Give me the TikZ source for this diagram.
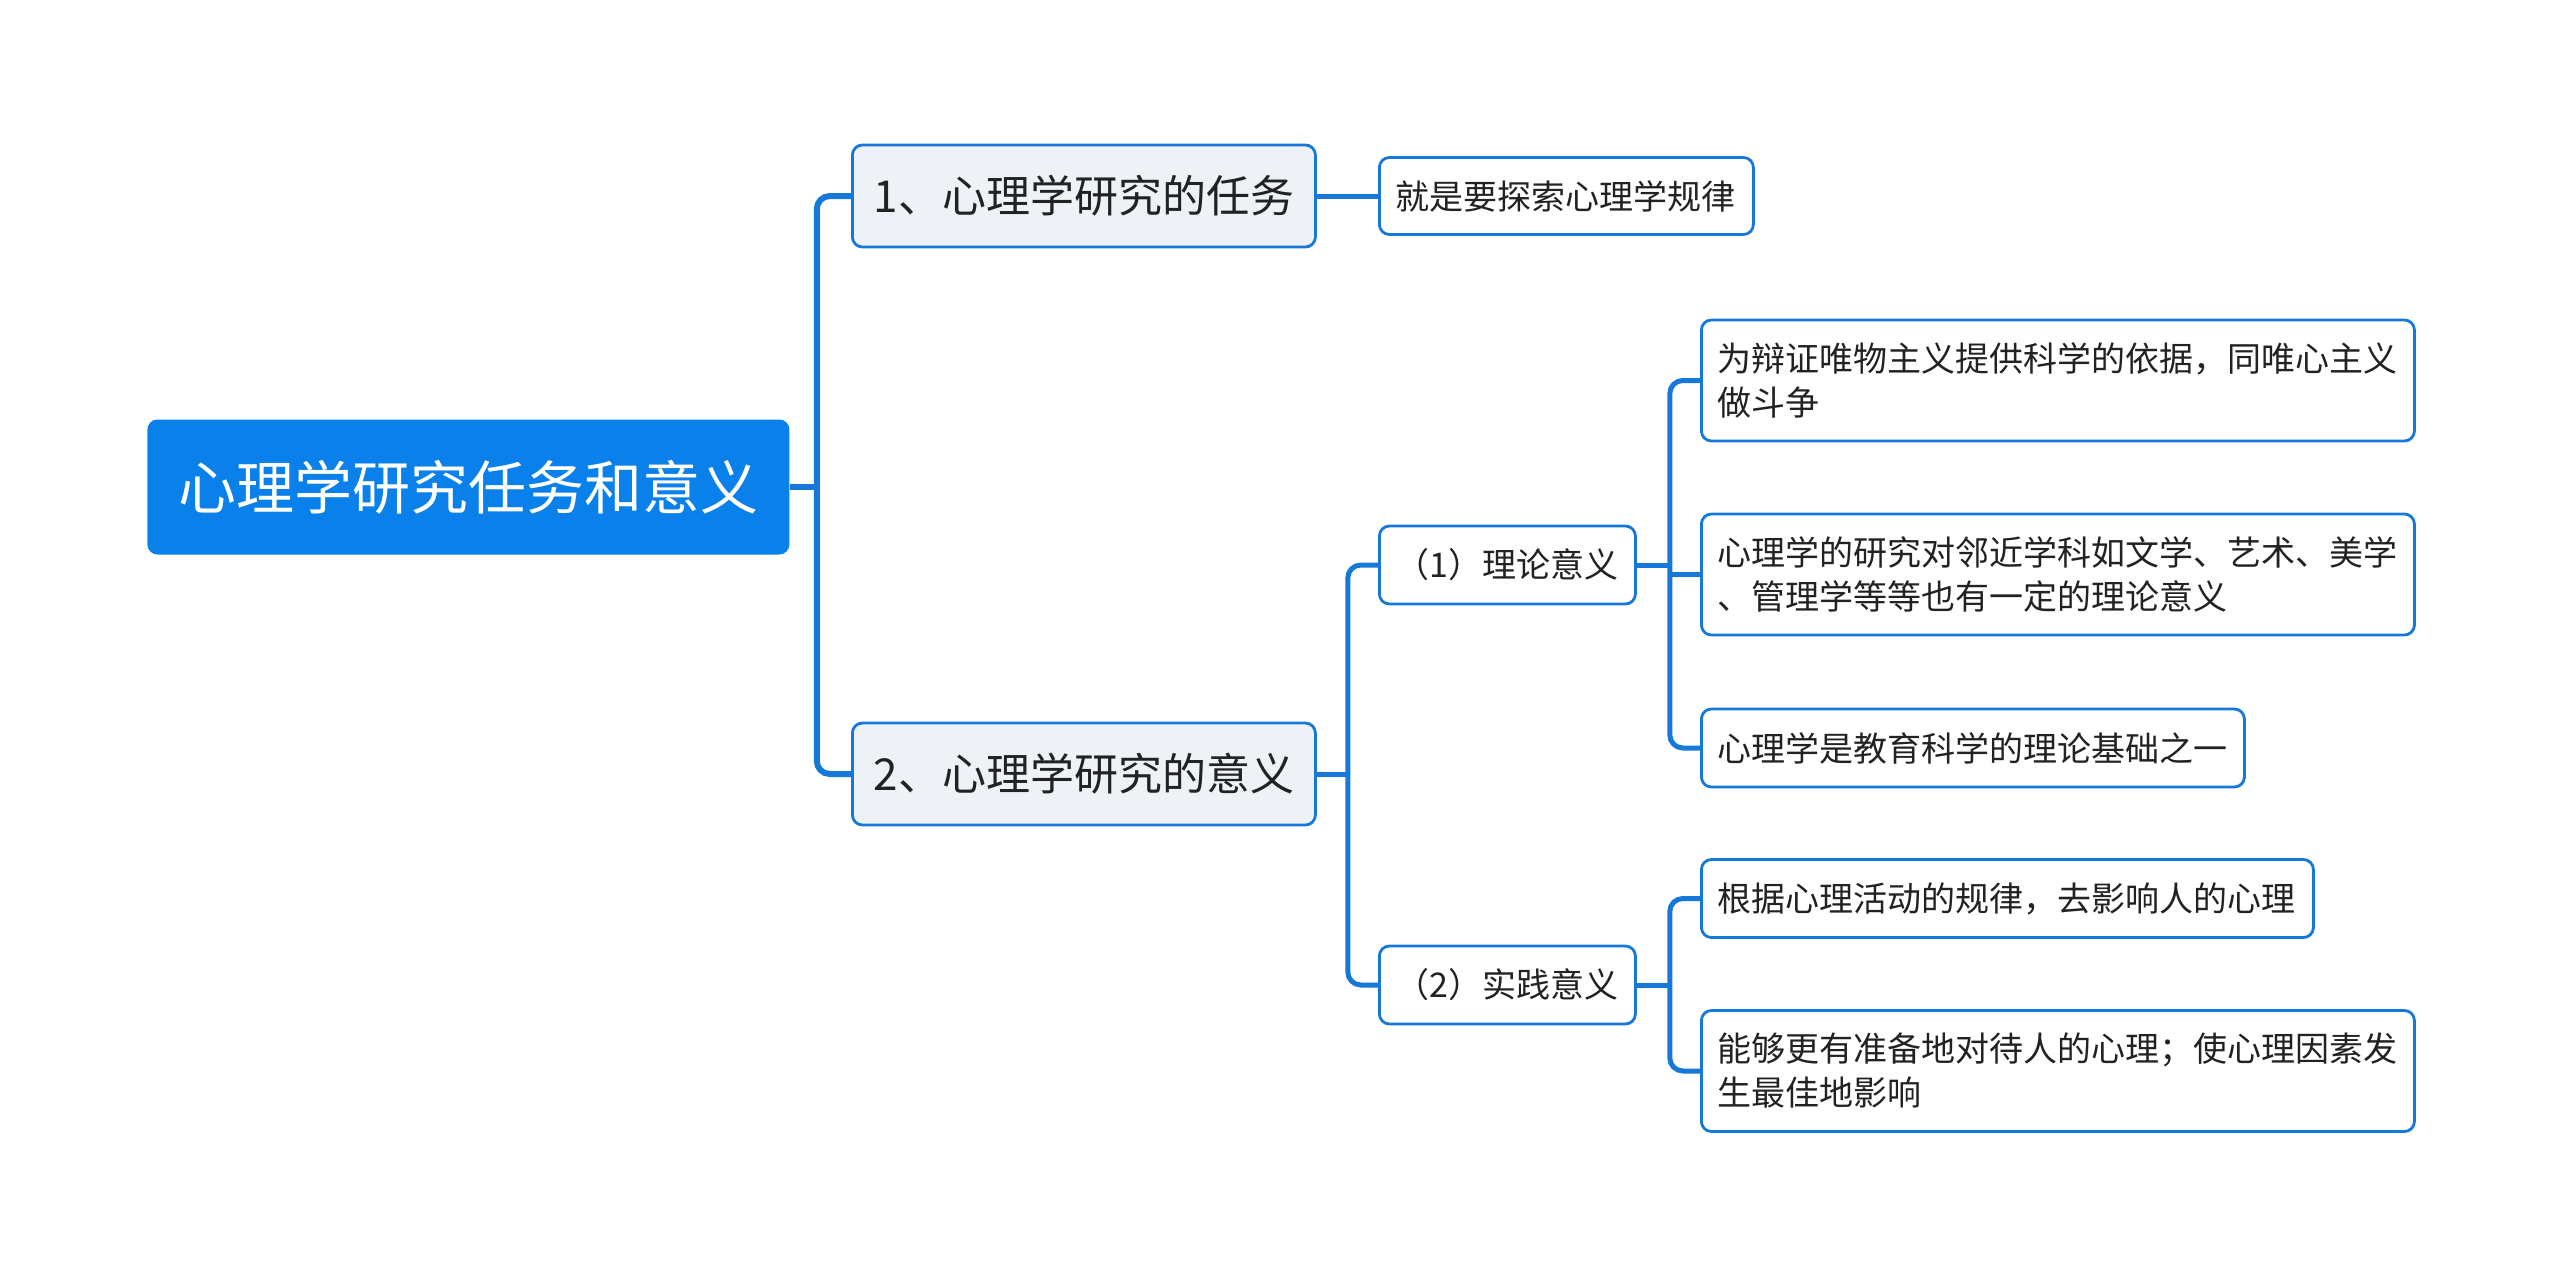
\documentclass[tikz,border=0pt]{standalone}
\usepackage{fontspec}
\setmainfont{Noto Sans CJK SC}
\usepackage{xcolor}
\usetikzlibrary{positioning}
\definecolor{rootblue}{HTML}{0A80EA}
\definecolor{lineblue}{HTML}{1679DA}
\definecolor{palegray}{HTML}{EEF2F6}
\definecolor{ink}{HTML}{222222}
\begin{document}
\begin{tikzpicture}[
  x=0.5pt,y=-0.5pt,
  rootbox/.style={fill=rootblue,rounded corners=5pt,text=white,anchor=west,inner sep=0pt,
              minimum width=321pt,minimum height=67.5pt,font=\fontsize{29pt}{35pt}\selectfont},
  topicbox/.style={draw=lineblue,line width=1.4pt,fill=palegray,rounded corners=5pt,text=ink,
              anchor=west,inner sep=0pt,minimum width=231.5pt,minimum height=51pt,
              font=\fontsize{22pt}{28pt}\selectfont},
  itembox/.style={draw=lineblue,line width=1.4pt,fill=white,rounded corners=5pt,text=ink,
              anchor=west,inner sep=0pt,minimum width=128pt,minimum height=39pt,
              font=\fontsize{17pt}{22pt}\selectfont},
  leafbox/.style={itembox,align=left,inner xsep=8pt,minimum height=39pt},
  link/.style={draw=lineblue,line width=3pt,rounded corners=6.5pt},
  sublink/.style={link,line width=2.5pt}
]
\useasboundingbox (0,0) rectangle (2560,1279);
% root and main branches
\node[rootbox] (root) at (147,487) {心理学研究任务和意义};
\node[topicbox] (task) at (851,196) {1、心理学研究的任务};
\node[topicbox] (sense) at (851,774) {2、心理学研究的意义};
\node[leafbox,text width=171pt,minimum height=38.5pt] (law) at (1378,196) {就是要探索心理学规律};
\node[itembox] (theory) at (1378,565) {（1）理论意义};
\node[itembox] (practice) at (1378,985) {（2）实践意义};
% leaves
\node[leafbox,text width=340.5pt,minimum height=60.5pt] (lfa) at (1700,380.5)
  {为辩证唯物主义提供科学的依据，同唯心主义\\做斗争};
\node[leafbox,text width=340.5pt,minimum height=60.5pt] (lfb) at (1700,574.5)
  {心理学的研究对邻近学科如文学、艺术、美学\\、管理学等等也有一定的理论意义};
\node[leafbox,text width=255.5pt] (lfc) at (1700,748) {心理学是教育科学的理论基础之一};
\node[leafbox,text width=290pt] (lfd) at (1700,898.5) {根据心理活动的规律，去影响人的心理};
\node[leafbox,text width=340.5pt,minimum height=60.5pt] (lfe) at (1700,1071)
  {能够更有准备地对待人的心理；使心理因素发\\生最佳地影响};
% junctions
\coordinate[right=13.5pt of root] (jroot);
\coordinate[right=15.5pt of sense] (jsense);
\coordinate[right=16.5pt of theory] (jtheory);
\coordinate[right=16.5pt of practice] (jpractice);
% connectors
\draw[link] (root.east) -- (jroot);
\draw[link] (jroot) |- (task.west);
\draw[link] (jroot) |- (sense.west);
\draw[sublink] (task.east) -- (law.west);
\draw[sublink] (sense.east) -- (jsense);
\draw[sublink] (jsense) |- (theory.west);
\draw[sublink] (jsense) |- (practice.west);
\draw[sublink] (theory.east) -- (jtheory);
\draw[sublink] (jtheory) |- (lfa.west);
\draw[sublink,sharp corners] (jtheory |- lfb.west) -- (lfb.west);
\draw[sublink] (jtheory) |- (lfc.west);
\draw[sublink] (practice.east) -- (jpractice);
\draw[sublink] (jpractice) |- (lfd.west);
\draw[sublink] (jpractice) |- (lfe.west);
\end{tikzpicture}
\end{document}
